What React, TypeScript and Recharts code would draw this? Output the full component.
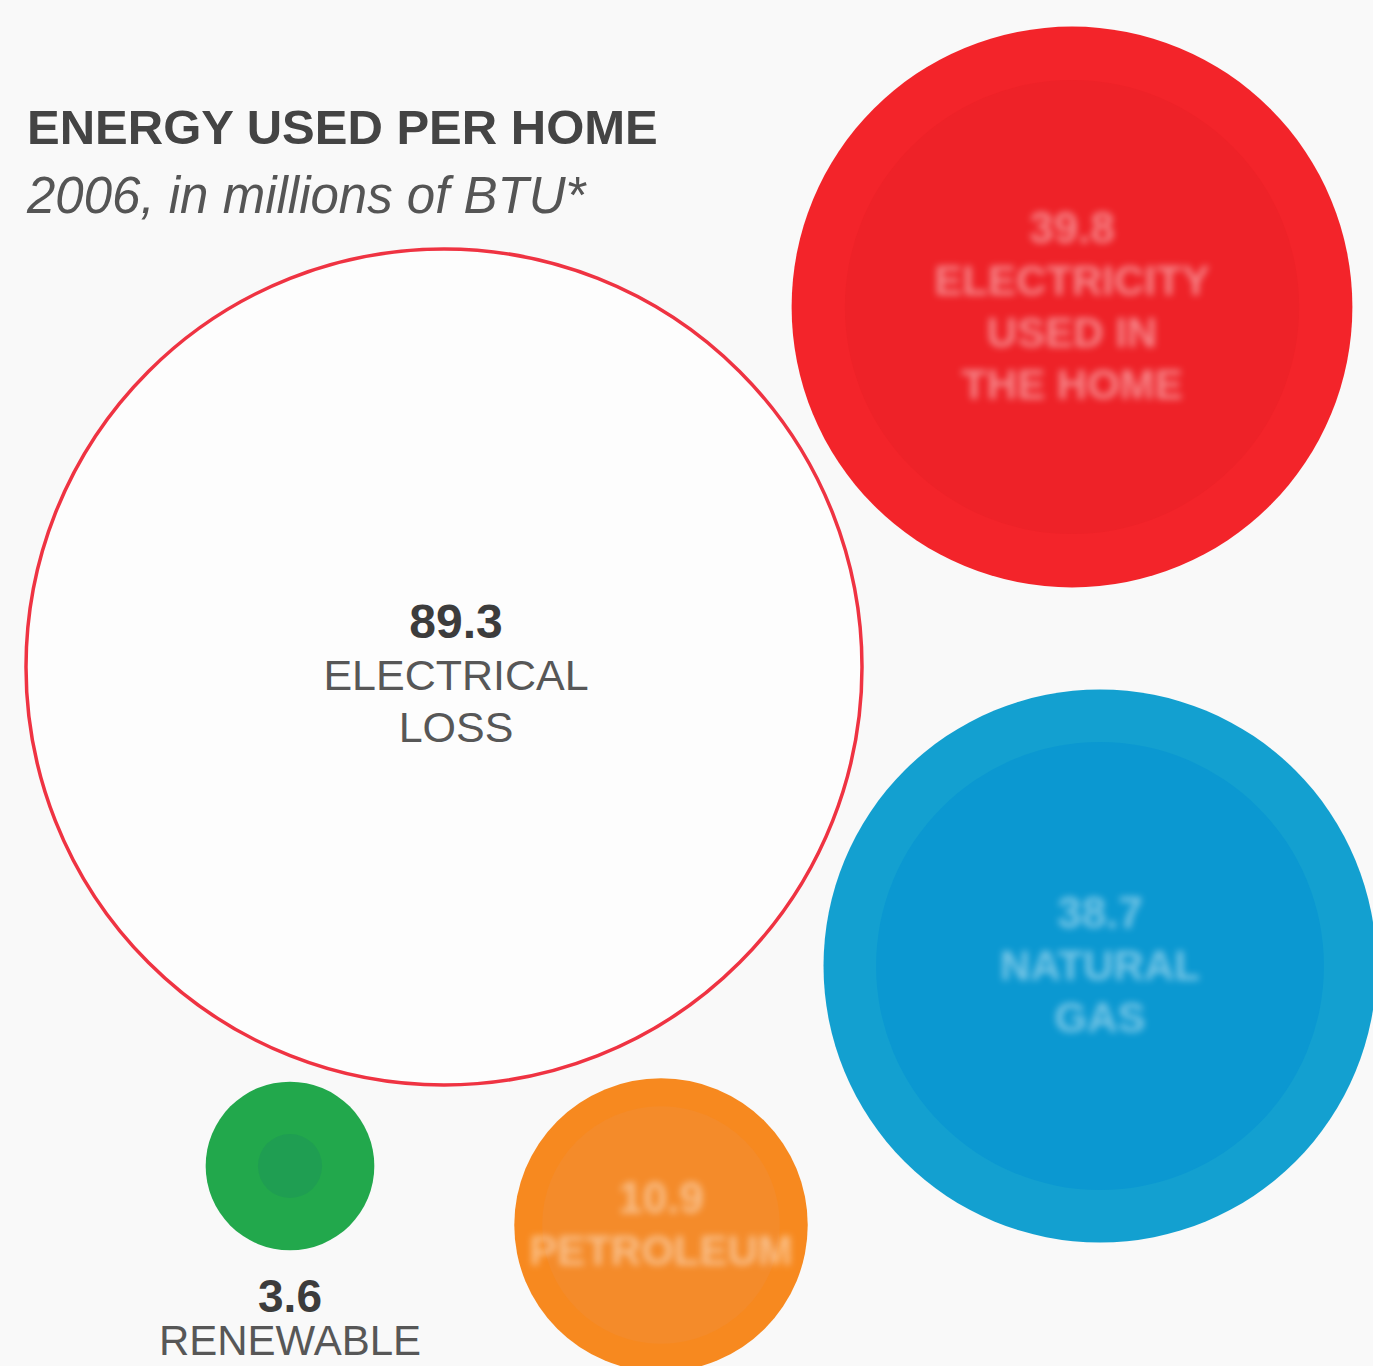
import { ScatterChart, Scatter, XAxis, YAxis, ZAxis } from 'recharts'

// values in millions of BTU per home, 2006
const names = ['ELECTRICAL LOSS', 'ELECTRICITY USED IN THE HOME', 'NATURAL GAS', 'PETROLEUM', 'RENEWABLE']
const values = [89.3, 39.8, 38.7, 10.9, 3.6]
const labelLines = [
  ['ELECTRICAL', 'LOSS'],
  ['ELECTRICITY', 'USED IN', 'THE HOME'],
  ['NATURAL', 'GAS'],
  ['PETROLEUM'],
  ['RENEWABLE'],
]

// bubble layout (page units) and looks
const centers = [[444, 667], [1072, 307], [1100, 966], [661, 1225], [290, 1166]]
const fills = ['#fdfdfd', '#f3242a', '#13a0d0', '#f7891f', '#22a84c']
const innerFills = ['none', '#ee2228', '#0b98d1', '#f48b2a', '#1f9e52']
const labelStyle = ['outside', 'blurred', 'blurred', 'blurred', 'below']

const W = 1373
const H = 1366
const MAX_R = 420

const data = values.map((v, i) => ({
  name: names[i],
  value: v,
  x: centers[i][0],
  y: centers[i][1],
  idx: i,
}))

function Bubble(props: any) {
  const { cx, cy, size, payload } = props
  const i = payload.idx
  const r = Math.sqrt(size / Math.PI)
  const lines = labelLines[i]
  const style = labelStyle[i]
  const num = values[i].toFixed(1)

  if (style === 'outside') {
    return (
      <g>
        <circle cx={cx} cy={cy} r={r - 2} fill={fills[i]} stroke="#ef3342" strokeWidth={3.5} />
        <text x={cx + 12} y={cy - 29} textAnchor="middle" fontSize={48} fontWeight="bold" fill="#3c3c3c" fontFamily="Liberation Sans, Arial, sans-serif">{num}</text>
        {lines.map((l, k) => (
          <text key={k} x={cx + 12} y={cy + 23 + k * 52} textAnchor="middle" fontSize={43} fill="#575757" fontFamily="Liberation Sans, Arial, sans-serif">{l}</text>
        ))}
      </g>
    )
  }
  if (style === 'below') {
    return (
      <g>
        <circle cx={cx} cy={cy} r={r} fill={fills[i]} />
        <circle cx={cx} cy={cy} r={r * 0.38} fill={innerFills[i]} />
        <text x={cx} y={cy + 146} textAnchor="middle" fontSize={46} fontWeight="bold" fill="#3c3c3c" fontFamily="Liberation Sans, Arial, sans-serif">{num}</text>
        {lines.map((l, k) => (
          <text key={k} x={cx} y={cy + 189 + k * 50} textAnchor="middle" fontSize={42} fill="#575757" fontFamily="Liberation Sans, Arial, sans-serif">{l}</text>
        ))}
      </g>
    )
  }
  // text inside the coloured discs is smudged in the original
  const total = lines.length + 1
  const startY = cy - ((total - 1) * 52) / 2 + 14
  return (
    <g>
      <circle cx={cx} cy={cy} r={r} fill={fills[i]} />
      <circle cx={cx} cy={cy} r={r * 0.81} fill={innerFills[i]} />
      <g filter="url(#smudge)" opacity={0.45}>
        <text x={cx} y={startY} textAnchor="middle" fontSize={44} fontWeight="bold" fill="#ffffff" fontFamily="Liberation Sans, Arial, sans-serif">{num}</text>
        {lines.map((l, k) => (
          <text key={k} x={cx} y={startY + (k + 1) * 52} textAnchor="middle" fontSize={42} fontWeight="bold" fill="#ffffff" fontFamily="Liberation Sans, Arial, sans-serif">{l}</text>
        ))}
      </g>
    </g>
  )
}

export default function App() {
  return (
    <div style={{ position: 'absolute', left: 0, top: 0, width: W, height: H, background: '#f9f9f9', overflow: 'hidden' }}>
      <svg width={0} height={0} style={{ position: 'absolute' }}>
        <defs>
          <filter id="smudge" x="-20%" y="-20%" width="140%" height="140%">
            <feGaussianBlur stdDeviation="3.5" />
          </filter>
        </defs>
      </svg>
      <div style={{ position: 'absolute', left: 27, top: 103, fontFamily: 'Liberation Sans, Arial, sans-serif', fontWeight: 'bold', fontSize: 49, color: '#444', lineHeight: 1, zIndex: 2 }}>
        ENERGY USED PER HOME
      </div>
      <div style={{ position: 'absolute', left: 27, top: 170, fontFamily: 'Liberation Sans, Arial, sans-serif', fontStyle: 'italic', fontSize: 51, color: '#555', lineHeight: 1, zIndex: 2 }}>
        2006, in millions of BTU*
      </div>
      <ScatterChart width={W} height={H} margin={{ top: 0, right: 0, bottom: 0, left: 0 }}>
        <XAxis type="number" dataKey="x" domain={[0, W]} hide />
        <YAxis type="number" dataKey="y" domain={[0, H]} reversed hide />
        <ZAxis type="number" dataKey="value" domain={[0, values[0]]} range={[0, Math.PI * MAX_R * MAX_R]} />
        <Scatter data={data} shape={<Bubble />} isAnimationActive={false} />
      </ScatterChart>
    </div>
  )
}
